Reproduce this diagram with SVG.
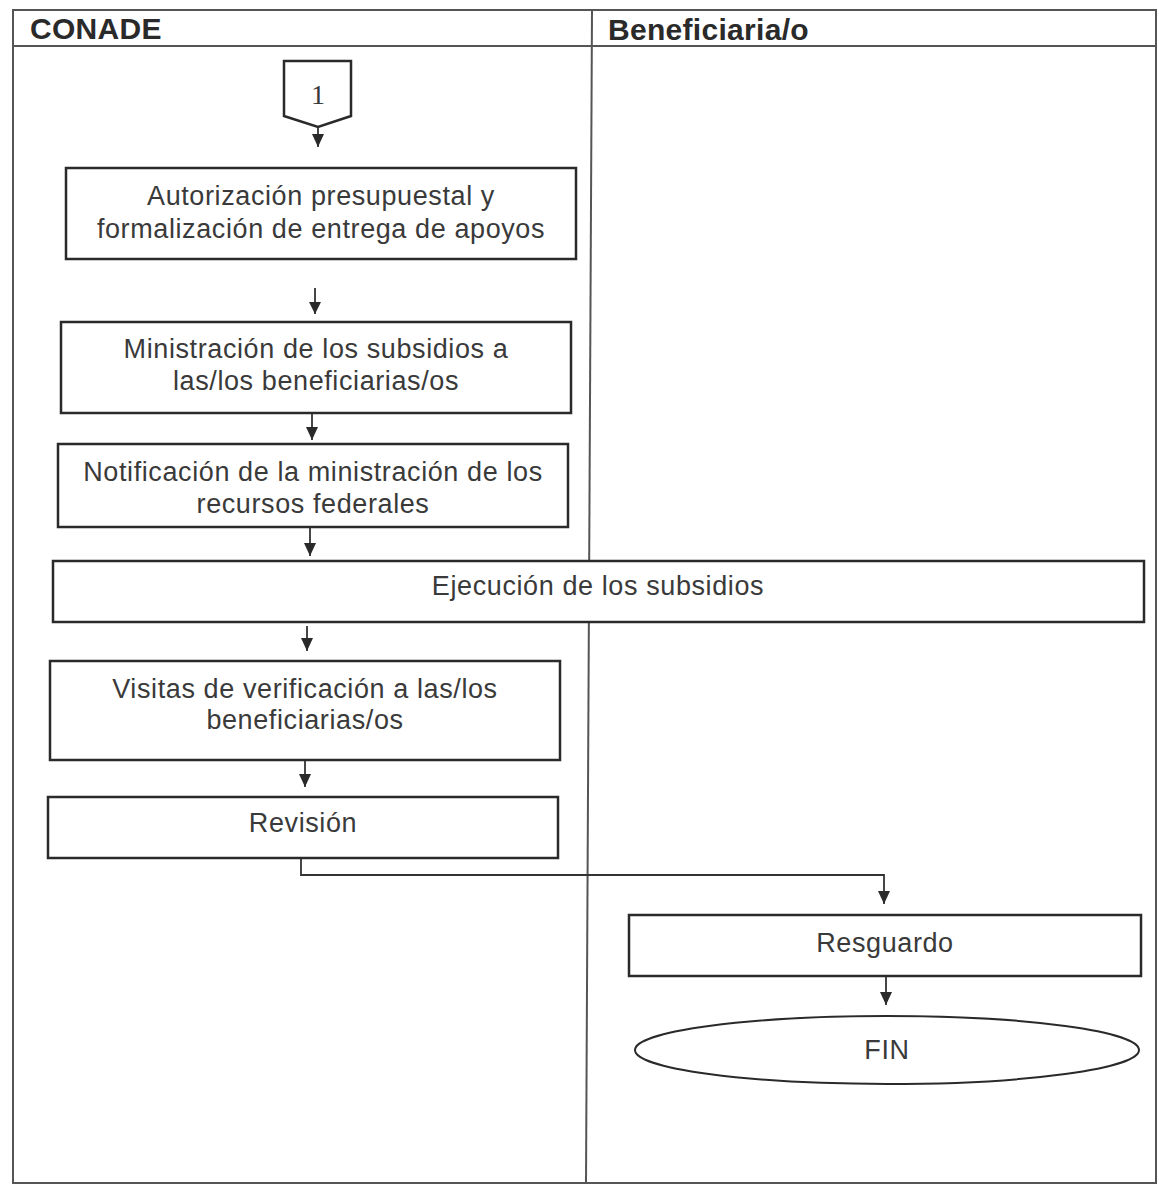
<svg xmlns="http://www.w3.org/2000/svg" width="1159" height="1185" viewBox="0 0 1159 1185">
<style>
.frame{fill:none;stroke:#555;stroke-width:2}
.box{fill:#fff;stroke:#2a2a2a;stroke-width:2.5}
.lbl{font-family:"Liberation Sans",Arial,sans-serif;font-size:27px;fill:#3a3a3a;text-anchor:middle;letter-spacing:0.6px}
.hdr{font-family:"Liberation Sans",Arial,sans-serif;font-size:30px;font-weight:bold;fill:#2a2a2a;letter-spacing:0.3px}
.con{fill:none;stroke:#333;stroke-width:1.8}
.ah{fill:#2a2a2a}
</style>
<rect width="1159" height="1185" fill="#fff"/>
<g id="lanes">
<rect class="frame" x="13" y="10" width="1143" height="1173"/>
<line class="frame" x1="13" y1="46" x2="1156" y2="46"/>
<line class="frame" x1="592" y1="10" x2="586" y2="1183"/>
<text class="hdr" x="30" y="39">CONADE</text>
<text class="hdr" x="608" y="40">Beneficiaria/o</text>
</g>
<g id="connectors">
<path class="con" d="M318,127 L318,147"/>
<path class="ah" d="M312,134 L324,134 L318,147 Z"/>
<path class="con" d="M315,288 L315,314"/>
<path class="ah" d="M309,302 L321,302 L315,314 Z"/>
<path class="con" d="M312,413 L312,440"/>
<path class="ah" d="M306,427 L318,427 L312,440 Z"/>
<path class="con" d="M310,527 L310,556"/>
<path class="ah" d="M304,543 L316,543 L310,556 Z"/>
<path class="con" d="M307,626 L307,651"/>
<path class="ah" d="M301,638 L313,638 L307,651 Z"/>
<path class="con" d="M305,760 L305,787"/>
<path class="ah" d="M299,774 L311,774 L305,787 Z"/>
<path class="con" d="M301,858 L301,875 L884,875 L884,904"/>
<path class="ah" d="M878,891 L890,891 L884,904 Z"/>
<path class="con" d="M886,976 L886,1005"/>
<path class="ah" d="M880,992 L892,992 L886,1005 Z"/>
</g>
<g id="n0">
<path class="box" d="M284,61 L351,61 L351,116 L318,127 L284,116 Z"/>
<text x="318" y="104" font-family="Liberation Serif,serif" font-size="28" fill="#3a3a3a" text-anchor="middle">1</text>
</g>
<g id="n1">
<rect class="box" x="66" y="168" width="510" height="91"/>
<text class="lbl" x="321" y="205">Autorización presupuestal y</text>
<text class="lbl" x="321" y="238">formalización de entrega de apoyos</text>
</g>
<g id="n2">
<rect class="box" x="61" y="322" width="510" height="91"/>
<text class="lbl" x="316" y="358">Ministración de los subsidios a</text>
<text class="lbl" x="316" y="390">las/los beneficiarias/os</text>
</g>
<g id="n3">
<rect class="box" x="58" y="444" width="510" height="83"/>
<text class="lbl" x="313" y="481">Notificación de la ministración de los</text>
<text class="lbl" x="313" y="513">recursos federales</text>
</g>
<g id="n4">
<rect class="box" x="53" y="561" width="1091" height="61"/>
<text class="lbl" x="598" y="595">Ejecución de los subsidios</text>
</g>
<g id="n5">
<rect class="box" x="50" y="661" width="510" height="99"/>
<text class="lbl" x="305" y="698">Visitas de verificación a las/los</text>
<text class="lbl" x="305" y="729">beneficiarias/os</text>
</g>
<g id="n6">
<rect class="box" x="48" y="797" width="510" height="61"/>
<text class="lbl" x="303" y="832">Revisión</text>
</g>
<g id="n7">
<rect class="box" x="629" y="915" width="512" height="61"/>
<text class="lbl" x="885" y="952">Resguardo</text>
</g>
<g id="n8">
<ellipse class="box" cx="887" cy="1050" rx="252" ry="34" style="stroke-width:2"/>
<text class="lbl" x="887" y="1059">FIN</text>
</g>
</svg>
